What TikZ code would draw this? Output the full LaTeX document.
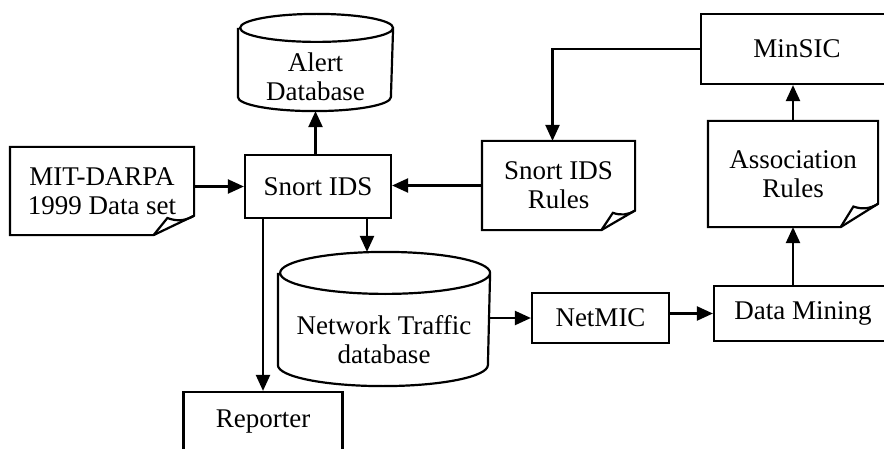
\documentclass[tikz,border=0pt]{standalone}
\usepackage{fontspec}
\setmainfont{Liberation Serif}
\usetikzlibrary{arrows.meta,calc}

% paper sheet with a curled bottom right corner
\newcommand{\paper}[1]{%
	\draw (#1.north west) -- (#1.north east)
		-- ($(#1.south east)!0.22!(#1.north east)$) coordinate (#1-r)
		-- ($(#1.south east)!0.22!(#1.south west)$) coordinate (#1-b)
		-- (#1.south west) -- cycle;
	\coordinate (#1-p) at ($(#1-b)!0.34!(#1-r)$);
	\coordinate (#1-q) at ($(#1-b)!0.88!(#1-r)$);
	\draw (#1-b) -- (#1-p |- #1-q) to[bend right=25] (#1-r);}

% database drum around the lower part of a node
\newcommand{\drum}[3]{%
	\draw ([yshift=#3]#1.north west) -- ([yshift=#3]#1.south west)
		arc[start angle=180, end angle=360, x radius=#2, y radius=#3]
		-- ([yshift=#3]#1.north east)
		arc[start angle=0, end angle=360, x radius=#2, y radius=#3];
	\coordinate (#1-top) at ([yshift=2*#3]#1.north);}

\begin{document}
\begin{tikzpicture}[x=1pt, y=1pt, line width=2.2pt,
	every node/.style={font=\fontsize{27}{29}\selectfont, align=center, inner sep=0pt},
	box/.style={draw, rectangle},
	sheet/.style={rectangle},
	arr/.style={-{Triangle[length=16pt,width=14pt]}}]
	\useasboundingbox (0,0) rectangle (884,448);
	\clip (0,0) rectangle (884,448);

	\node [box, minimum width=146, minimum height=63] (snort) at (318,261.5) {Snort IDS};
	\node [sheet, minimum width=153, minimum height=67] (alertdb) at (315.5,371.5) {Alert\\Database};
	\node [sheet, minimum width=182, minimum height=86] (mit) at (102,257) {MIT-DARPA\\1999 Data set};
	\node [sheet, minimum width=151, minimum height=87] (rules) at (558.5,262.5) {Snort IDS\\Rules};
	\node [box, minimum width=192, minimum height=70] (minsic) at (797,399) {MinSIC};
	\node [sheet, minimum width=168, minimum height=104] (assoc) at (793,274) {Association\\Rules};
	\node [box, minimum width=178, minimum height=55] (mining) at (803,134.5) {Data Mining};
	\node [box, minimum width=137, minimum height=50] (netmic) at (600.5,130) {NetMIC};
	\node [sheet, minimum width=210, minimum height=90] (traffic) at (384,108) {Network Traffic\\database};
	\node [box, minimum width=159, minimum height=60] (reporter) at (263,26) {Reporter};

	\drum{alertdb}{76.5}{14}
	\drum{traffic}{105}{21}
	\paper{mit}
	\paper{rules}
	\paper{assoc}

	\draw [arr] (mit.east |- snort.west) -- (snort.west);
	\draw [arr] (rules.west) -- (rules.west -| snort.east);
	\draw [arr] (alertdb.south |- snort.north) -- (alertdb.south);
	\draw [arr] (minsic.west) -| ([xshift=-6pt]rules.north);
	\draw [arr] (assoc.north) -- (assoc.north |- minsic.south);
	\draw [arr] (assoc.south |- mining.north) -- (assoc.south);
	\draw [arr] (netmic.east |- mining.west) -- (mining.west);
	\draw [arr] (traffic.east |- netmic.west) -- (netmic.west);
	\coordinate (s1) at ([xshift=49pt]snort.south);
	\draw [arr] (s1) -- (s1 |- traffic-top);
	\draw [arr] (reporter.north |- snort.south) -- (reporter.north);
\end{tikzpicture}
\end{document}
